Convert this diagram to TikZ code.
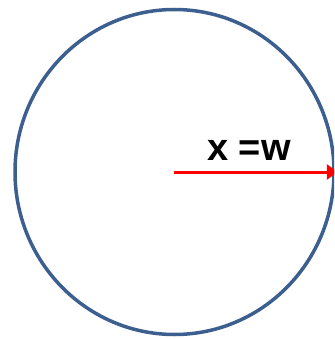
\documentclass[tikz,border=0pt]{standalone}
\usepackage{fontspec}
\setmainfont{Liberation Sans}
\usetikzlibrary{arrows.meta,shapes.geometric}
\definecolor{RingBlue}{HTML}{3D5F90}
\definecolor{RayRed}{HTML}{FF0000}

\begin{document}
\begin{tikzpicture}[>=Triangle, x=1pt, y=-1pt]
    % Frame
    \useasboundingbox (0,0) rectangle (334,339);
    \clip (0,0) rectangle (334,339);

    % Circle
    \node[ellipse, draw=RingBlue, line width=3.5pt, inner sep=0pt,
          minimum width=319pt, minimum height=325pt] (ring) at (174.5,172) {};
    \coordinate (centre) at (174,172);

    % Radius arrow
    \draw[->, RayRed, line width=3pt, >={Triangle[length=11pt,width=15pt]}]
        (centre) -- ([xshift=2pt]ring.east);

    % Label
    \node[font=\fontsize{38}{40}\selectfont\bfseries] (xlabel) at (249,150) {x =w};
\end{tikzpicture}
\end{document}
